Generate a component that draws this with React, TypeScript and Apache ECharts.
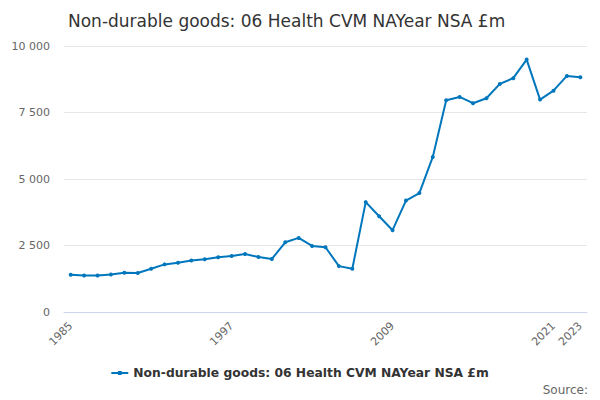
import React, { useEffect, useRef } from "react";
import * as echarts from "echarts";

const years: string[] = [
  "1985","1986","1987","1988","1989","1990","1991","1992","1993","1994",
  "1995","1996","1997","1998","1999","2000","2001","2002","2003","2004",
  "2005","2006","2007","2008","2009","2010","2011","2012","2013","2014",
  "2015","2016","2017","2018","2019","2020","2021","2022","2023",
];

const values: number[] = [
  1400, 1375, 1372, 1410, 1475, 1465, 1625, 1790, 1855, 1940,
  1980, 2055, 2105, 2180, 2068, 1995, 2620, 2785, 2485, 2435,
  1725, 1628, 4130, 3600, 3075, 4190, 4470, 5830, 7960, 8085,
  7850, 8035, 8575, 8790, 9490, 7985, 8320, 8875, 8825,
];

const seriesName = "Non-durable goods: 06 Health CVM NAYear NSA £m";
const titleText = "Non-durable goods: 06 Health CVM NAYear NSA £m";
const yTicks: number[] = [0, 2500, 5000, 7500, 10000];

export default function App() {
  const ref = useRef<HTMLDivElement>(null);
  useEffect(() => {
    if (!ref.current) return;
    const chart = echarts.init(ref.current, null, { renderer: "svg" });
    const font = "DejaVu Sans";
    chart.setOption({
      animation: false,
      textStyle: { fontFamily: font },
      title: {
        text: titleText,
        left: 63,
        top: 7,
        textStyle: { fontFamily: font, fontSize: 17, fontWeight: "normal", color: "#333333" },
      },
      grid: { left: 64, right: 13, top: 46, bottom: 88, containLabel: false },
      legend: {
        bottom: 16,
        left: "center",
        itemWidth: 17,
        itemHeight: 8,
        itemGap: 5,
        textStyle: { fontFamily: font, fontSize: 12.3, fontWeight: "bold", color: "#333333" },
        data: [{ name: seriesName, icon: "path://M0,3 L18,3 L18,5 L0,5 Z M7,2 L11,2 L11,6 L7,6 Z" }],
      },
      graphic: [
        {
          type: "text",
          right: 12,
          bottom: 4,
          style: { text: "Source:", fontFamily: font, fontSize: 12, fill: "#666666" },
        },
      ],
      xAxis: {
        type: "category",
        data: years,
        boundaryGap: true,
        axisLine: { lineStyle: { color: "#ccd6eb" } },
        axisTick: {
          alignWithLabel: true,
          interval: (i: number) => i % 3 === 0 || i === years.length - 1,
          length: 10,
          lineStyle: { color: "#ccd6eb" },
        },
        axisLabel: {
          interval: (i: number) => i % 12 === 0 || i === years.length - 1,
          rotate: 45,
          color: "#666666",
          fontSize: 11,
          fontFamily: font,
          margin: 12,
        },
      },
      yAxis: {
        type: "value",
        min: 0,
        max: 10000,
        interval: 2500,
        axisLine: { show: false },
        axisTick: { show: false },
        splitLine: { lineStyle: { color: "#e6e6e6" } },
        axisLabel: {
          color: "#666666",
          fontSize: 11,
          fontFamily: font,
          margin: 14,
          formatter: (v: number) =>
            yTicks.includes(v) ? String(v).replace(/\B(?=(\d{3})+(?!\d))/g, " ") : "",
        },
      },
      series: [
        {
          name: seriesName,
          type: "line",
          data: values,
          symbol: "circle",
          symbolSize: 4,
          itemStyle: { color: "#0077bd" },
          lineStyle: { color: "#0077bd", width: 2 },
        },
      ],
    });
    return () => chart.dispose();
  }, []);
  return (
    <div
      ref={ref}
      style={{ position: "fixed", left: 0, top: 0, width: 600, height: 400, background: "#ffffff" }}
    />
  );
}
